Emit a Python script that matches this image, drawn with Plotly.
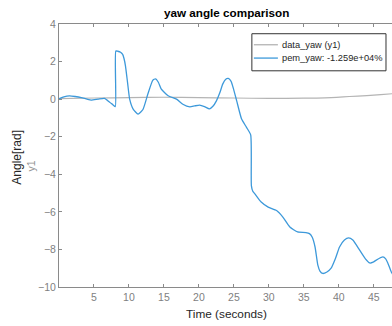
import plotly.graph_objects as go

# Measured yaw angle (data_yaw) and model response (pem_yaw)
data_t = [0, 5, 10, 15, 20, 25, 30, 35, 38, 41.5, 44, 46, 48]
data_yaw = [0.03, 0.06, 0.08, 0.1, 0.08, 0.06, 0.04, 0.05, 0.07, 0.14, 0.19, 0.24, 0.3]

pem_t = [0, 0.7, 1.5, 2.3, 3.2, 4.0, 4.6, 5.6, 6.5, 7.2, 7.7, 8.05, 8.12, 8.4, 8.8,
         9.1, 9.3, 9.5, 9.8, 10.1, 10.6, 11.3, 12.0, 12.7, 13.4, 13.8, 14.2, 14.6,
         15.6, 16.8, 17.7, 18.7, 19.4, 20.1, 20.8, 21.5, 22.0, 22.5, 23.0, 23.4,
         23.8, 24.2, 24.6, 24.9, 25.4, 26.1, 26.8, 27.4, 27.5, 27.7, 28.0, 28.9,
         29.9, 31.1, 32.0, 33.0, 34.1, 35.3, 35.8, 36.2, 36.6, 37.0, 37.3, 37.7,
         38.3, 38.9, 39.5, 40.1, 40.8, 41.4, 42.0, 43.0, 43.8, 44.4, 44.9, 45.3,
         46.3, 46.7, 47.0, 47.5, 48.0]
pem_yaw = [0.02, 0.12, 0.17, 0.14, 0.08, 0.0, -0.05, 0.0, 0.04, -0.15, -0.3, -0.4,
           2.56, 2.55, 2.5, 2.38, 2.15, 1.77, 0.88, 0.0, -0.53, -0.8, -0.55, 0.27,
           1.0, 1.08, 0.9, 0.55, 0.18, 0.0, -0.27, -0.41, -0.36, -0.32, -0.4, -0.52,
           -0.38, -0.09, 0.35, 0.8, 1.05, 1.1, 0.95, 0.6, -0.09, -1.06, -1.5, -1.9,
           -4.6, -4.9, -5.04, -5.48, -5.75, -5.93, -6.28, -6.81, -7.07, -7.1, -7.16,
           -7.35, -7.87, -8.84, -9.15, -9.28, -9.2, -9.0, -8.5, -7.87, -7.5, -7.39,
           -7.5, -8.05, -8.5, -8.72, -8.68, -8.58, -8.4, -8.5, -8.72, -9.2, -9.5]

x_ticks = [5, 10, 15, 20, 25, 30, 35, 40, 45]
y_ticks = [-10, -8, -6, -4, -2, 0, 2, 4]

series_names = ["data_yaw (y1)", "pem_yaw: -1.259e+04%"]
series_colors = ["#b4b4b4", "#3d99da"]

FONT = "Liberation Sans, Arial, sans-serif"
AXIS_GREY = "#8a8a8a"
TICK_GREY = "#7f7f7f"

# plot-area geometry in pixels, used to place the legend box in paper units
W, H = 392, 326
L, T, B = 59.3, 24.3, 286.7
PW, PH = W - L, B - T


def px(x):
    return (x - L) / PW


def py(y):
    return (B - y) / PH


fig = go.Figure()
fig.add_trace(go.Scatter(x=data_t, y=data_yaw, mode="lines", name=series_names[0],
                         line=dict(color=series_colors[0], width=1.2, shape="spline", smoothing=0.6)))
fig.add_trace(go.Scatter(x=pem_t, y=pem_yaw, mode="lines", name=series_names[1],
                         line=dict(color=series_colors[1], width=1.3, shape="spline", smoothing=0.5)))

fig.update_layout(
    width=W, height=H,
    margin=dict(l=L, r=0, t=T, b=H - B, autoexpand=False),
    plot_bgcolor="white", paper_bgcolor="white",
    font=dict(family=FONT, size=10.5, color=TICK_GREY),
    showlegend=False,
)
fig.update_xaxes(range=[0, 47.6], tickvals=x_ticks, ticks="inside", ticklen=3,
                 tickcolor=AXIS_GREY, showline=True, linecolor=AXIS_GREY, linewidth=1,
                 mirror="ticks", showgrid=False, zeroline=False,
                 tickfont=dict(size=10.5, color=TICK_GREY))
fig.update_yaxes(range=[-10, 4], tickvals=y_ticks, ticks="inside", ticklen=3,
                 tickcolor=AXIS_GREY, showline=True, linecolor=AXIS_GREY, linewidth=1,
                 showgrid=False, zeroline=False,
                 tickfont=dict(size=10.5, color=TICK_GREY))

# legend box
fig.add_shape(type="rect", xref="paper", yref="paper",
              x0=px(252), x1=px(386), y0=py(71), y1=py(34),
              line=dict(color="#333333", width=1), fillcolor="white", layer="above")
for i, (name, color) in enumerate(zip(series_names, series_colors)):
    yy = 45 + i * 13.3
    fig.add_shape(type="line", xref="paper", yref="paper",
                  x0=px(254), x1=px(278), y0=py(yy), y1=py(yy),
                  line=dict(color=color, width=1.3), layer="above")
    fig.add_annotation(text=name, xref="paper", yref="paper", x=px(280), y=py(yy),
                       xanchor="left", yanchor="middle", showarrow=False,
                       font=dict(family=FONT, size=9.3, color="#262626"))

fig.add_annotation(text="<b>yaw angle comparison</b>", xref="paper", yref="paper",
                   x=px(227), y=py(13.3), xanchor="center", yanchor="middle", showarrow=False,
                   font=dict(family=FONT, size=11.7, color="#000000"))
fig.add_annotation(text="Time (seconds)", xref="paper", yref="paper",
                   x=px(227), y=py(313.3), xanchor="center", yanchor="middle", showarrow=False,
                   font=dict(family=FONT, size=11.8, color="#262626"))
fig.add_annotation(text="Angle[rad]", xref="paper", yref="paper", textangle=-90,
                   x=px(17), y=py(157), xanchor="center", yanchor="middle", showarrow=False,
                   font=dict(family=FONT, size=12, color="#262626"))
fig.add_annotation(text="y1", xref="paper", yref="paper", textangle=-90,
                   x=px(31.7), y=py(166), xanchor="center", yanchor="middle", showarrow=False,
                   font=dict(family=FONT, size=10.5, color="#909090"))

fig.write_html("out.html")
